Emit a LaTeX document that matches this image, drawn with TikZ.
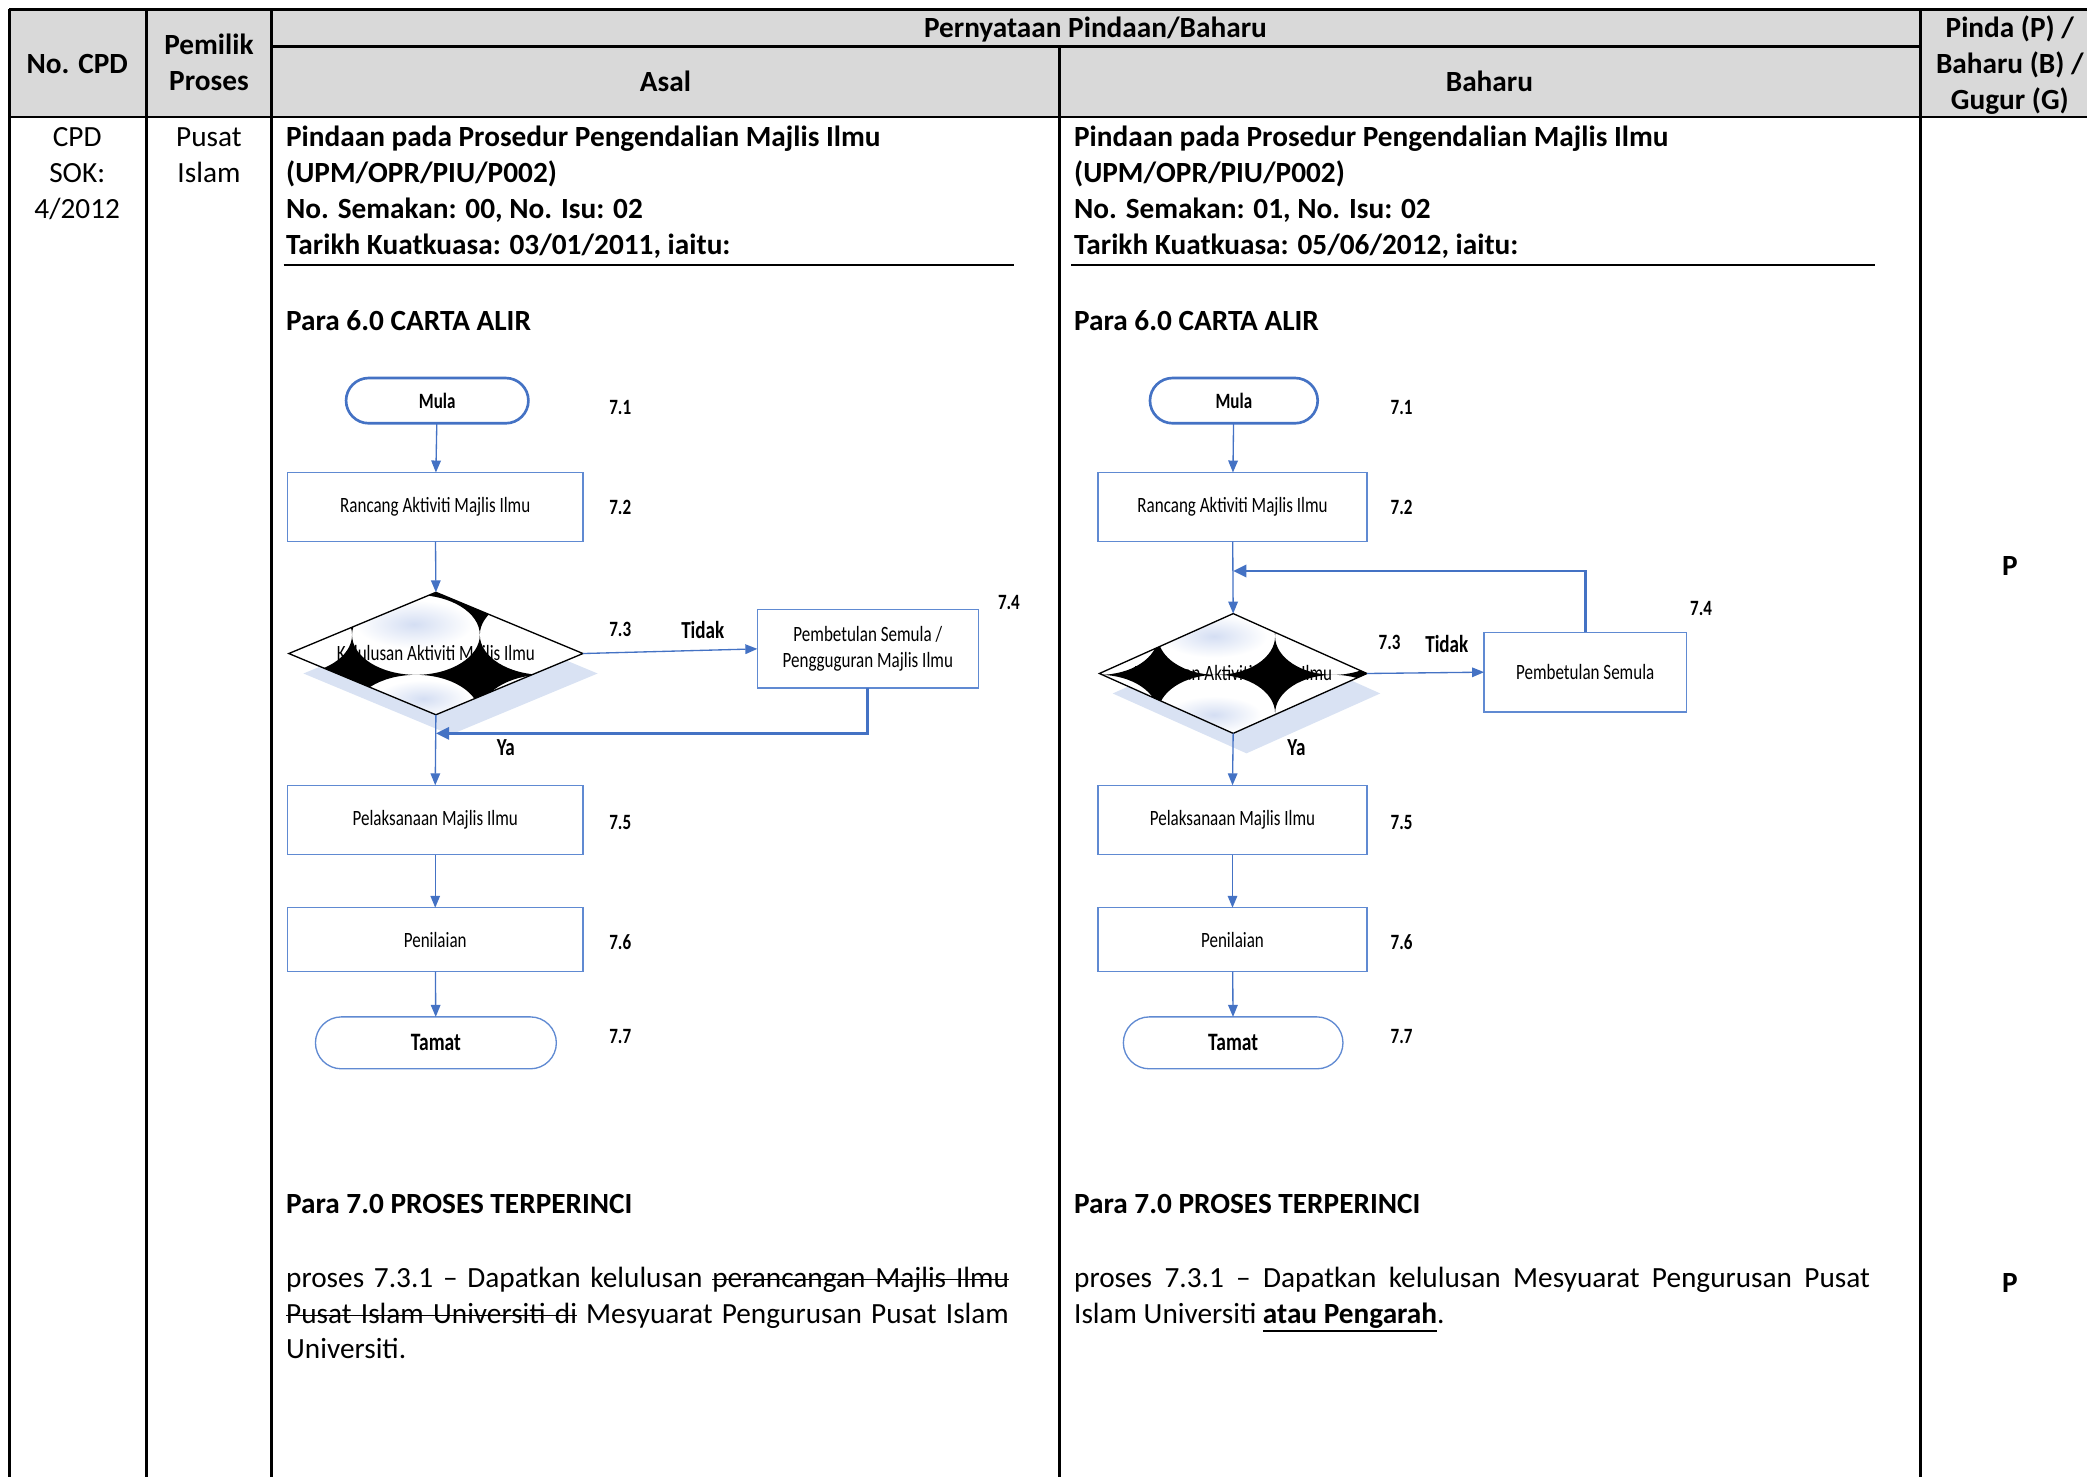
\documentclass[tikz,border=0pt]{standalone}
\usepackage{fontspec}
\setmainfont{Carlito}
\newfontfamily\flowfont{Carlito}[FakeStretch=0.78]
\usetikzlibrary{shapes.geometric,arrows.meta}
\definecolor{hdr}{RGB}{217,217,217}
\definecolor{fblue}{RGB}{68,114,196}
\definecolor{bblue}{RGB}{96,138,210}
\definecolor{shad}{RGB}{217,226,243}
\definecolor{blob}{RGB}{212,222,243}
\newcommand\stw[1]{\leavevmode\setbox0\hbox{#1}\rlap{\vrule height 3.05pt depth -2.6pt width \wd0}\box0\relax}
\newcommand\stsp{\leaders\hrule height 3.05pt depth -2.6pt\hskip\fontdimen2\font plus\fontdimen3\font minus\fontdimen4\font\relax}
\newcommand\ulw[1]{\leavevmode\setbox0\hbox{#1}\rlap{\vrule height -2.6pt depth 3.4pt width \wd0}\box0\relax}
\begin{document}
\begin{tikzpicture}[x=0.5pt,y=-0.5pt,
 every node/.style={inner sep=0pt, outer sep=0pt},
 tline/.style={line width=1pt, black},
 body/.style={font=\fontsize{11}{13.5}\selectfont, anchor=base west},
 bodyb/.style={font=\fontsize{11}{13.5}\selectfont\bfseries, anchor=base west},
 hd/.style={font=\fontsize{11}{13.5}\selectfont\bfseries, anchor=base},
 cell/.style={font=\fontsize{11}{13.5}\selectfont, anchor=base},
 flow/.style={font=\flowfont\fontsize{8.2}{10}\selectfont},
 flowb/.style={font=\flowfont\fontsize{8.2}{10}\selectfont\bfseries},
 yn/.style={font=\flowfont\fontsize{9.2}{10}\selectfont\bfseries},
 box/.style={draw=bblue, line width=0.5pt, fill=white, align=center, flow},
 mula/.style={draw=fblue, line width=1pt, fill=white, rounded corners=8.5pt, flowb, minimum height=17pt},
 tamat/.style={draw=bblue, line width=0.5pt, fill=white, rounded corners=9.75pt, font=\flowfont\fontsize{9.4}{10}\selectfont\bfseries, minimum height=19.5pt},
 dia/.style={diamond, fill=white, draw=none},
 conn/.style={draw=fblue, line width=0.5pt, -{Triangle[length=4.5pt,width=3.6pt]}},
 conn2/.style={draw=fblue, line width=1.1pt, -{Triangle[length=5pt,width=4.6pt]}},
 pat/.style={fill=black, even odd rule}
]
\useasboundingbox (0,0) rectangle (1568,1110);
% ---------------- table ----------------
\fill[hdr] (7,7) rectangle (1568,88);
\draw[tline] (7,7) -- (1568,7);
\draw[tline] (204,35) -- (1443,35);
\draw[tline] (7,88) -- (1568,88);
\draw[tline] (7,7) -- (7,1110);
\draw[tline] (110,7) -- (110,1110);
\draw[tline] (204,7) -- (204,1110);
\draw[tline] (796,35) -- (796,1110);
\draw[tline] (1443,7) -- (1443,1110);
% header
\node[hd] (h1) at (58,55) {No. CPD};
\node[hd] (h2a) at (157,41) {Pemilik};
\node[hd] (h2b) at (157,68) {Proses};
\node[hd] (h3) at (823,28) {Pernyataan Pindaan/Baharu};
\node[hd] (h4) at (500,69) {Asal};
\node[hd] (h5) at (1119,69) {Baharu};
\node[hd] (h6a) at (1510,28) {Pinda (P) /};
\node[hd] (h6b) at (1510,55) {Baharu (B) /};
\node[hd] (h6c) at (1510,82) {Gugur (G)};
% first columns
\node[cell] (c1a) at (58,110) {CPD};
\node[cell] (c1b) at (58,137) {SOK:};
\node[cell] (c1c) at (58,164) {4/2012};
\node[cell] (c2a) at (157,110) {Pusat};
\node[cell] (c2b) at (157,137) {Islam};
% left column text
\node[bodyb] (la1) at (215,110) {Pindaan pada Prosedur Pengendalian Majlis Ilmu};
\node[bodyb] (la2) at (215,137) {(UPM/OPR/PIU/P002)};
\node[bodyb] (la3) at (215,164) {No. Semakan: 00, No. Isu: 02};
\node[bodyb] (la4) at (215,191) {Tarikh Kuatkuasa: 03/01/2011, iaitu:};
\draw[line width=0.8pt] (213,199) -- (762,199);
\node[bodyb] (la5) at (215,248) {Para 6.0 CARTA ALIR};
\node[bodyb] (la6) at (215,912) {Para 7.0 PROSES TERPERINCI};
\node[body, text width=271.5pt, align=justify] (la7) at (215,967)
 {\hyphenpenalty=10000\exhyphenpenalty=10000 proses 7.3.1 – Dapatkan kelulusan \stw{perancangan}\stsp\stw{Majlis}\stsp\stw{Ilmu}\linebreak \stw{Pusat}\stsp\stw{Islam}\stsp\stw{Universiti}\stsp\stw{di} Mesyuarat Pengurusan Pusat Islam\linebreak Universiti.};
% right column text
\node[bodyb] (ra1) at (807,110) {Pindaan pada Prosedur Pengendalian Majlis Ilmu};
\node[bodyb] (ra2) at (807,137) {(UPM/OPR/PIU/P002)};
\node[bodyb] (ra3) at (807,164) {No. Semakan: 01, No. Isu: 02};
\node[bodyb] (ra4) at (807,191) {Tarikh Kuatkuasa: 05/06/2012, iaitu:};
\draw[line width=0.8pt] (805,199) -- (1409,199);
\node[bodyb] (ra5) at (807,248) {Para 6.0 CARTA ALIR};
\node[bodyb] (ra6) at (807,912) {Para 7.0 PROSES TERPERINCI};
\node[body, text width=299pt, align=justify] (ra7) at (807,967)
 {\hyphenpenalty=10000\exhyphenpenalty=10000 proses 7.3.1 – Dapatkan kelulusan Mesyuarat Pengurusan Pusat\linebreak Islam Universiti \ulw{\textbf{atau Pengarah}}.};
% P column
\node[font=\fontsize{11}{13.5}\selectfont\bfseries] (p1) at (1510,425) {P};
\node[font=\fontsize{11}{13.5}\selectfont\bfseries] (p2) at (1510,964) {P};

% ---------------- left flowchart ----------------
\node[mula, minimum width=68.5pt] (l1) at (328.5,301) {Mula};
\node[box, minimum width=111pt, minimum height=26pt] (l2) at (327,381) {Rancang Aktiviti Majlis Ilmu};
\fill[shad] (338.5,460) -- (449,506) -- (338.5,552) -- (228,506) -- cycle;
\node[dia, minimum width=110.5pt, minimum height=46pt] (l3) at (327.5,491) {};
\begin{scope}
 \clip (l3.north) -- (l3.east) -- (l3.south) -- (l3.west) -- cycle;
 \shade[inner color=blob, outer color=white] (311,469) ellipse [x radius=22pt, y radius=9pt];
 \shade[inner color=blob, outer color=white] (318,525) ellipse [x radius=18pt, y radius=7pt];
\end{scope}
\node[flow] (l3t) at (327.5,492) {Kelulusan Aktiviti Majlis Ilmu};
\begin{scope}
 \clip (l3.north) -- (l3.east) -- (l3.south) -- (l3.west) -- cycle;
 \fill[pat] (200,430) rectangle (460,560)
   (216.5,417) ellipse [x radius=24pt, y radius=15pt]
   (312.5,417) ellipse [x radius=24pt, y radius=15pt]
   (408.5,417) ellipse [x radius=24pt, y radius=15pt]
   (216.5,477) ellipse [x radius=24pt, y radius=15pt]
   (312.5,477) ellipse [x radius=24pt, y radius=15pt]
   (408.5,477) ellipse [x radius=24pt, y radius=15pt]
   (216.5,537) ellipse [x radius=24pt, y radius=15pt]
   (312.5,537) ellipse [x radius=24pt, y radius=15pt]
   (408.5,537) ellipse [x radius=24pt, y radius=15pt];
\end{scope}
\draw[line width=0.5pt] (l3.north) -- (l3.east) -- (l3.south) -- (l3.west) -- cycle;
\node[box, minimum width=83pt, minimum height=29.5pt] (l4) at (652,487.5) {Pembetulan Semula /\\Pengguguran Majlis Ilmu};
\node[box, minimum width=111pt, minimum height=26pt] (l5) at (327,616) {Pelaksanaan Majlis Ilmu};
\node[box, minimum width=111pt, minimum height=24pt] (l6) at (327,706) {Penilaian};
\node[tamat, minimum width=90.5pt] (l7) at (327.5,783.5) {Tamat};
\coordinate (lret) at (327.5,551);
\draw[conn] (l1) -- (l2);
\draw[conn] (l2) -- (l3.north);
\draw[conn] (l3.east) -- (l4.west);
\draw[conn2] (l4.south) |- (lret);
\draw[conn] (l3.south) -- (l5.north);
\draw[conn] (l5) -- (l6);
\draw[conn] (l6) -- (l7);
\node[flowb] (l71) at (466,306) {7.1};
\node[flowb] (l72) at (466,381) {7.2};
\node[flowb] (l73) at (466,473) {7.3};
\node[yn] (ltd) at (528,473) {Tidak};
\node[flowb] (l74) at (758,453) {7.4};
\node[yn] (lya) at (380,562) {Ya};
\node[flowb] (l75) at (466,618) {7.5};
\node[flowb] (l76) at (466,708) {7.6};
\node[flowb] (l77) at (466,779) {7.7};

% ---------------- right flowchart ----------------
\node[mula, minimum width=63pt] (r1) at (927,301) {Mula};
\node[box, minimum width=101pt, minimum height=26pt] (r2) at (926,381) {Rancang Aktiviti Majlis Ilmu};
\fill[shad] (936.5,476) -- (1037,521) -- (936.5,566) -- (836,521) -- cycle;
\node[dia, minimum width=100.5pt, minimum height=45pt] (r3) at (926.5,506) {};
\begin{scope}
 \clip (r3.north) -- (r3.east) -- (r3.south) -- (r3.west) -- cycle;
 \shade[inner color=blob, outer color=white] (912,478) ellipse [x radius=20pt, y radius=8pt];
 \shade[inner color=blob, outer color=white] (912,537) ellipse [x radius=18pt, y radius=7pt];
\end{scope}
\node[flow] (r3t) at (926.5,507) {Kelulusan Aktiviti Majlis Ilmu};
\begin{scope}
 \clip (r3.north) -- (r3.east) -- (r3.south) -- (r3.west) -- cycle;
 \fill[pat] (800,440) rectangle (1060,580)
   (826,420) ellipse [x radius=22pt, y radius=14.5pt]
   (914,420) ellipse [x radius=22pt, y radius=14.5pt]
   (1002,420) ellipse [x radius=22pt, y radius=14.5pt]
   (826,478) ellipse [x radius=22pt, y radius=14.5pt]
   (914,478) ellipse [x radius=22pt, y radius=14.5pt]
   (1002,478) ellipse [x radius=22pt, y radius=14.5pt]
   (826,536) ellipse [x radius=22pt, y radius=14.5pt]
   (914,536) ellipse [x radius=22pt, y radius=14.5pt]
   (1002,536) ellipse [x radius=22pt, y radius=14.5pt];
\end{scope}
\draw[line width=0.5pt] (r3.north) -- (r3.east) -- (r3.south) -- (r3.west) -- cycle;
\node[box, minimum width=76pt, minimum height=30pt] (r4) at (1191,505) {Pembetulan Semula};
\node[box, minimum width=101pt, minimum height=26pt] (r5) at (926,616) {Pelaksanaan Majlis Ilmu};
\node[box, minimum width=101pt, minimum height=24pt] (r6) at (926,706) {Penilaian};
\node[tamat, minimum width=82.5pt] (r7) at (926.5,783.5) {Tamat};
\coordinate (rret) at (926.5,429);
\draw[conn] (r1) -- (r2);
\draw[conn] (r2) -- (r3.north);
\draw[conn2] (r4.north) |- (rret);
\draw[conn] (r3.east) -- (r4.west);
\draw[conn] (r3.south) -- (r5.north);
\draw[conn] (r5) -- (r6);
\draw[conn] (r6) -- (r7);
\node[flowb] (r71) at (1053,306) {7.1};
\node[flowb] (r72) at (1053,381) {7.2};
\node[flowb] (r73) at (1044,483) {7.3};
\node[yn] (rtd) at (1087,484) {Tidak};
\node[flowb] (r74) at (1278,457) {7.4};
\node[yn] (rya) at (974,562) {Ya};
\node[flowb] (r75) at (1053,618) {7.5};
\node[flowb] (r76) at (1053,708) {7.6};
\node[flowb] (r77) at (1053,779) {7.7};
\end{tikzpicture}
\end{document}
